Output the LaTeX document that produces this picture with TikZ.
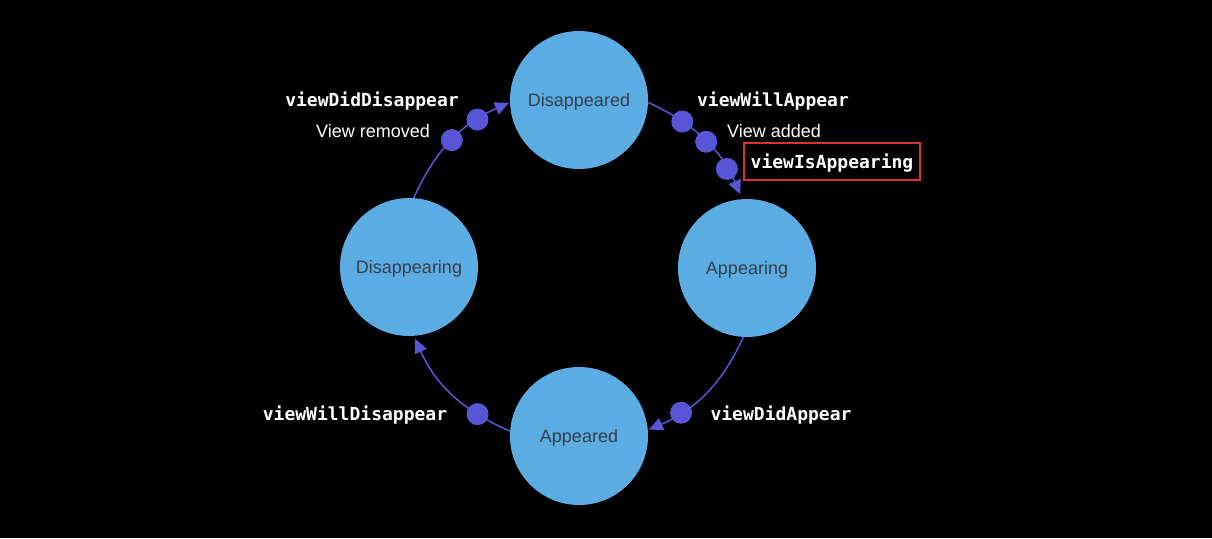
\documentclass[tikz,border=0pt]{standalone}
\usepackage{fontspec}
\setmainfont{Liberation Sans}
\newfontfamily\monof{DejaVu Sans Mono}
\usetikzlibrary{arrows.meta}
\definecolor{bub}{HTML}{5AACE2}
\definecolor{ind}{HTML}{5856D6}
\definecolor{ctext}{HTML}{353F4A}
\definecolor{redb}{HTML}{D9352A}
\begin{document}
\begin{tikzpicture}[x=1pt,y=1pt,
 state/.style={circle,fill=bub,minimum size=138pt,inner sep=0pt,text=ctext,text depth=0pt,font=\fontsize{18}{20}\selectfont},
 evdot/.style={circle,fill=ind,minimum size=22pt,inner sep=0pt},
 conn/.style={draw=ind,line width=1.5pt,-{Triangle[length=14pt,width=13pt]}},
 meth/.style={text=white,text depth=0pt,font=\monof\bfseries\fontsize{18}{20}\selectfont},
 note/.style={text=white,text depth=0pt,font=\fontsize{18}{20}\selectfont}]
\fill[black] (0,0) rectangle (1212,-538);
\useasboundingbox (0,0) rectangle (1212,-538);
\node[state] (DD) at (579,-100) {Disappeared};
\node[state] (AG) at (747,-268) {Appearing};
\node[state] (AD) at (579,-436) {Appeared};
\node[state] (DG) at (409,-267) {Disappearing};
\draw[conn,shorten >=5pt] (DD.-2) to[bend left=21]
  node[evdot,pos=0.27] (w1) {} node[evdot,pos=0.51] (w2) {} node[evdot,pos=0.77] (w3) {} (AG.94);
\draw[conn,shorten >=1pt] (AG.-93) to[bend left=21]
  node[evdot,pos=0.74] (w4) {} (AD.5);
\draw[conn,shorten >=3pt] (AD.176) to[bend left=21]
  node[evdot,pos=0.25] (w5) {} (DG.-86);
\draw[conn,shorten >=1pt] (DG.86) to[bend left=21]
  node[evdot,pos=0.50] (w6) {} node[evdot,pos=0.75] (w7) {} (DD.182);
\node[meth] (l1) at (372,-99) {viewDidDisappear};
\node[note] (l2) at (373,-131) {View removed};
\node[meth] (l3) at (773,-99) {viewWillAppear};
\node[note] (l4) at (774,-131) {View added};
\node[meth,draw=redb,line width=2.5pt,minimum width=176pt,minimum height=37pt,inner sep=0pt] (l5) at (832,-161.5) {viewIsAppearing};
\node[meth] (l6) at (355,-413) {viewWillDisappear};
\node[meth] (l7) at (781,-413) {viewDidAppear};
\end{tikzpicture}
\end{document}
